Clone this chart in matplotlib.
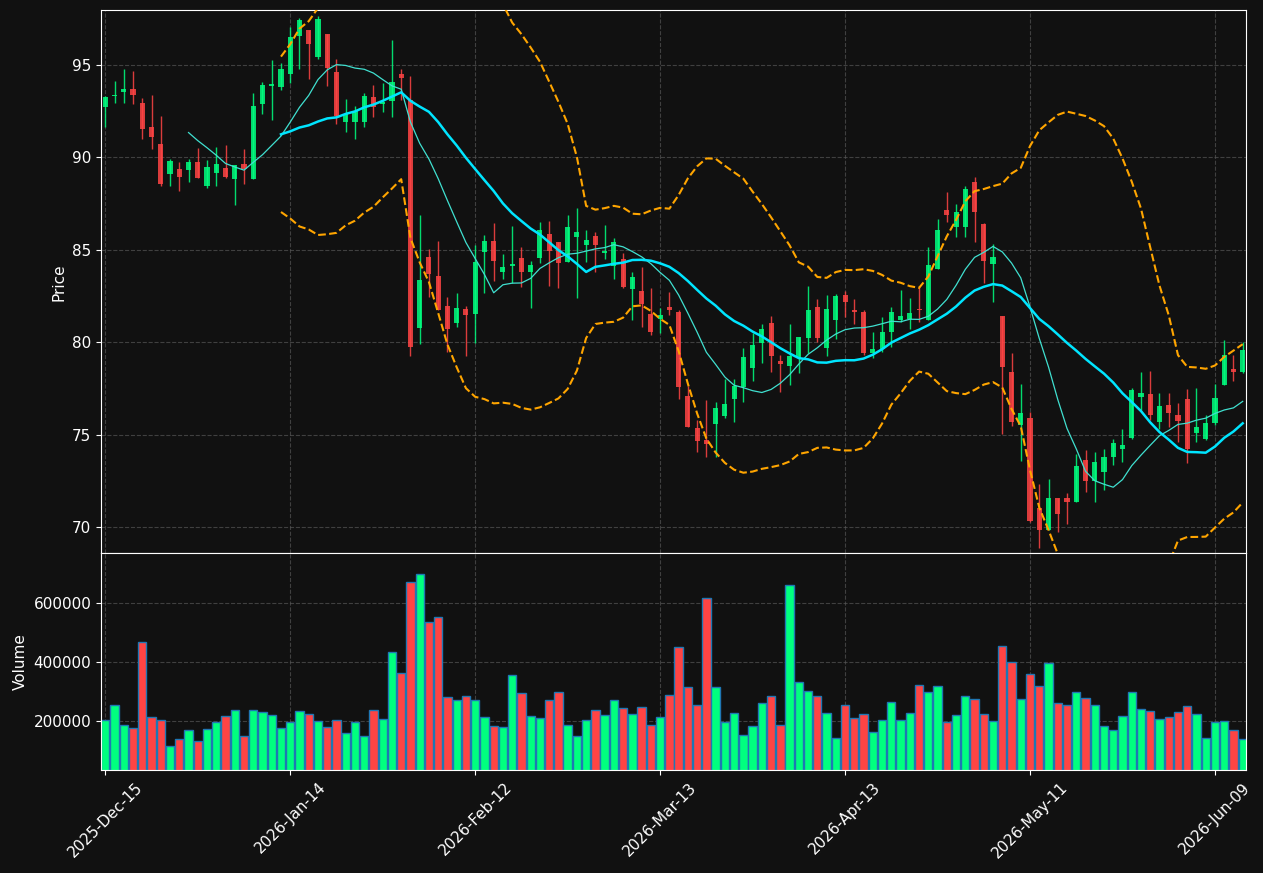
import numpy as np
import pandas as pd
import matplotlib
matplotlib.use("Agg")
import matplotlib.pyplot as plt

# ------------------------------
# Data
# ------------------------------
holidays = ["2025-12-25", "2026-01-01", "2026-01-19", "2026-02-16", "2026-04-03", "2026-05-25"]
dates = pd.bdate_range("2025-12-15", periods=124, freq="C", holidays=holidays)

opens = [92.72, 93.30, 93.55, 93.72, 92.97, 91.62, 90.75, 89.12, 89.39, 89.33,
         89.76, 88.46, 89.18, 89.45, 88.81, 89.64, 88.81, 92.87, 93.88, 93.80,
         94.50, 96.55, 96.91, 95.44, 96.70, 94.63, 91.91, 91.93, 91.93, 93.28,
         92.89, 93.03, 94.54, 93.12, 80.75, 84.62, 83.59, 81.97, 81.02, 81.79,
         81.52, 84.87, 85.47, 83.81, 84.15, 84.58, 83.79, 84.54, 85.85, 85.43,
         84.33, 85.68, 85.27, 85.76, 84.83, 84.15, 84.50, 82.86, 82.78, 81.54,
         81.27, 81.91, 81.66, 77.10, 75.38, 74.72, 75.59, 76.01, 76.94, 77.56,
         78.58, 79.94, 81.06, 78.99, 78.72, 79.15, 80.25, 81.91, 79.67, 81.23,
         82.57, 81.74, 81.64, 79.44, 79.63, 80.56, 81.21, 81.25, 81.81, 81.23,
         83.94, 87.17, 86.22, 86.24, 88.68, 86.42, 84.21, 81.43, 78.39, 75.53,
         75.92, 71.04, 69.86, 71.59, 71.59, 71.33, 73.64, 72.51, 73.00, 73.77,
         74.25, 74.83, 77.06, 77.19, 75.67, 76.61, 76.07, 76.94, 75.07, 74.79,
         75.61, 77.71, 78.57, 78.41]
highs = [93.30, 94.13, 94.81, 94.67, 93.22, 93.38, 92.24, 89.91, 89.74, 89.91,
         90.53, 89.86, 90.57, 90.69, 89.61, 90.46, 93.49, 94.07, 95.25, 95.10,
         97.03, 97.53, 96.91, 97.67, 96.70, 95.33, 93.16, 92.78, 93.49, 93.90,
         94.05, 96.35, 94.81, 94.40, 86.86, 85.06, 85.47, 82.45, 82.64, 81.97,
         85.24, 85.78, 86.47, 84.77, 86.28, 85.14, 84.39, 86.49, 86.55, 85.43,
         86.88, 87.27, 86.07, 85.95, 86.32, 85.64, 84.85, 83.81, 84.08, 82.94,
         81.85, 82.72, 81.72, 77.66, 75.82, 76.86, 76.79, 78.00, 78.00, 79.69,
         80.50, 80.98, 81.41, 79.30, 80.98, 80.29, 83.03, 82.34, 82.55, 82.59,
         82.78, 82.34, 81.72, 80.56, 81.39, 81.91, 82.82, 82.39, 83.07, 85.16,
         86.67, 88.12, 87.50, 88.46, 88.93, 86.47, 85.31, 81.43, 79.44, 77.73,
         76.21, 72.32, 72.59, 71.59, 71.86, 73.94, 74.16, 74.08, 74.21, 74.76,
         75.30, 77.50, 78.37, 78.43, 77.25, 77.25, 76.71, 77.46, 77.52, 76.05,
         77.75, 80.11, 79.30, 80.02]
lows = [91.64, 92.93, 92.93, 92.87, 91.00, 90.46, 88.45, 88.45, 88.16, 88.68,
        88.87, 88.33, 88.45, 88.91, 87.40, 88.56, 88.81, 92.35, 92.02, 93.63,
        94.05, 94.81, 94.25, 95.33, 93.86, 91.81, 91.40, 91.00, 91.66, 92.20,
        92.45, 92.20, 93.12, 79.24, 79.90, 82.45, 81.72, 79.49, 80.85, 79.24,
        79.94, 82.64, 83.34, 83.42, 83.21, 82.99, 81.87, 84.27, 83.07, 82.94,
        84.33, 82.39, 84.33, 83.81, 84.52, 83.42, 82.95, 81.20, 80.81, 80.40,
        80.52, 81.45, 76.92, 75.43, 74.06, 73.79, 73.79, 75.88, 75.67, 76.79,
        77.93, 78.87, 78.39, 77.33, 77.71, 78.31, 79.40, 80.03, 79.24, 80.15,
        81.37, 80.98, 79.30, 79.17, 79.49, 79.74, 81.08, 80.71, 81.08, 81.23,
        83.94, 86.51, 85.72, 85.72, 85.43, 83.21, 82.20, 75.03, 75.49, 73.56,
        70.27, 68.86, 69.86, 69.73, 70.19, 71.33, 71.91, 71.35, 71.99, 73.34,
        73.50, 74.76, 76.36, 75.82, 75.33, 75.43, 74.60, 73.46, 74.60, 74.72,
        75.53, 77.71, 77.93, 78.33]
closes = [93.28, 93.34, 93.72, 93.40, 91.52, 91.09, 88.58, 89.82, 88.95, 89.76,
          88.91, 89.49, 89.66, 88.95, 89.61, 89.39, 92.80, 93.94, 93.99, 94.81,
          96.49, 97.46, 96.12, 97.51, 94.86, 92.22, 92.35, 92.53, 93.34, 92.74,
          92.99, 94.07, 94.28, 79.73, 83.38, 83.71, 81.72, 80.69, 81.87, 81.50,
          84.33, 85.47, 84.37, 84.06, 84.25, 83.82, 84.19, 86.07, 84.91, 84.27,
          86.24, 85.95, 85.55, 85.27, 84.93, 85.41, 83.01, 83.52, 82.08, 80.54,
          81.48, 81.72, 77.60, 75.43, 74.68, 74.52, 76.46, 76.67, 77.66, 79.20,
          79.86, 80.73, 79.26, 78.80, 79.28, 80.29, 81.72, 80.21, 81.81, 82.51,
          82.18, 81.64, 79.44, 79.65, 80.56, 81.64, 81.43, 81.60, 81.72, 84.19,
          86.09, 86.86, 87.05, 88.31, 87.03, 84.37, 84.62, 78.64, 75.69, 76.17,
          70.33, 69.86, 71.59, 70.73, 71.37, 73.31, 72.51, 73.52, 73.79, 74.56,
          74.45, 77.42, 77.27, 76.07, 76.55, 76.15, 75.76, 74.21, 75.41, 75.63,
          77.00, 79.30, 78.41, 79.59]
volumes = [202000, 254000, 186000, 176000, 468000, 214000, 202000, 115000, 139000, 169000,
           132000, 173000, 197000, 217000, 237000, 149000, 237000, 230000, 220000, 176000,
           197000, 234000, 224000, 200000, 180000, 203000, 159000, 197000, 149000, 237000,
           207000, 434000, 363000, 668000, 698000, 536000, 553000, 281000, 271000, 285000,
           271000, 214000, 183000, 180000, 356000, 295000, 217000, 210000, 271000, 298000,
           186000, 149000, 203000, 237000, 220000, 271000, 244000, 224000, 247000, 186000,
           214000, 288000, 451000, 315000, 254000, 614000, 315000, 197000, 227000, 153000,
           183000, 261000, 285000, 186000, 658000, 332000, 302000, 285000, 227000, 142000,
           254000, 210000, 224000, 163000, 203000, 264000, 203000, 227000, 322000, 298000,
           319000, 197000, 220000, 285000, 275000, 224000, 200000, 454000, 400000, 275000,
           359000, 319000, 397000, 261000, 254000, 298000, 278000, 254000, 183000, 169000,
           217000, 298000, 241000, 234000, 207000, 214000, 230000, 251000, 224000, 142000,
           197000, 200000, 169000, 139000]

df = pd.DataFrame({"open": opens, "high": highs, "low": lows,
                   "close": closes, "volume": volumes}, index=dates)

# indicators
df["ma10"] = df["close"].rolling(10).mean()
df["ma20"] = df["close"].rolling(20).mean()
std20 = df["close"].rolling(20).std(ddof=0)
df["upper"] = df["ma20"] + 2 * std20
df["lower"] = df["ma20"] - 2 * std20

# ------------------------------
# Plot
# ------------------------------
bg = "#111111"
up_col = "#00ff7f"
down_col = "#ff4444"

fig = plt.figure(figsize=(12.63, 8.73), dpi=100, facecolor=bg)
ax = fig.add_axes([0.080, 0.3666, 0.9065, 0.6214])
axv = fig.add_axes([0.080, 0.118, 0.9065, 0.2486], sharex=ax)

x = np.arange(len(df))
up = df["close"] >= df["open"]
colors = np.where(up, up_col, down_col)

# wicks
ax.vlines(x, df["low"], df["high"], colors=colors, linewidth=1, alpha=0.85, zorder=2)
# bodies
body_low = np.minimum(df["open"], df["close"])
body_h = np.maximum(np.abs(df["close"] - df["open"]), 0.08)
ax.bar(x, body_h, bottom=body_low, width=0.55, color=colors, alpha=0.85, zorder=3)

ax.plot(x, df["ma10"], color="#40e0d0", linewidth=0.9, zorder=4)
ax.plot(x, df["ma20"], color="#00e5ff", linewidth=1.8, zorder=4)
ax.plot(x, df["upper"], color="#ffa500", linewidth=1.5, linestyle="--", zorder=4)
ax.plot(x, df["lower"], color="#ffa500", linewidth=1.5, linestyle="--", zorder=4)

axv.bar(x, df["volume"], width=0.9, color=colors, edgecolor="#1f77b4", linewidth=1)

for a in (ax, axv):
    a.set_facecolor(bg)
    a.grid(True, color="#555555", linestyle="--", linewidth=0.8, alpha=0.7)
    a.set_axisbelow(True)
    for s in a.spines.values():
        s.set_color("white")
    a.tick_params(colors="white", labelsize=11)

ax.set_xlim(-0.46, len(df) - 0.65)
ax.set_ylim(68.6, 97.95)
ax.set_yticks([70, 75, 80, 85, 90, 95])
ax.set_ylabel("Price", color="white", fontsize=11)
plt.setp(ax.get_xticklabels(), visible=False)

axv.set_ylim(0.3 * min(volumes), 1.1 * max(volumes))
axv.set_yticks([200000, 400000, 600000])
axv.ticklabel_format(axis="y", style="plain")
axv.set_ylabel("Volume", color="white", fontsize=11)

tick_idx = list(range(0, len(df), 20))
axv.set_xticks(tick_idx)
axv.set_xticklabels([dates[i].strftime("%Y-%b-%d") for i in tick_idx], rotation=45)

fig.savefig("out.png", dpi=100, facecolor=bg)
